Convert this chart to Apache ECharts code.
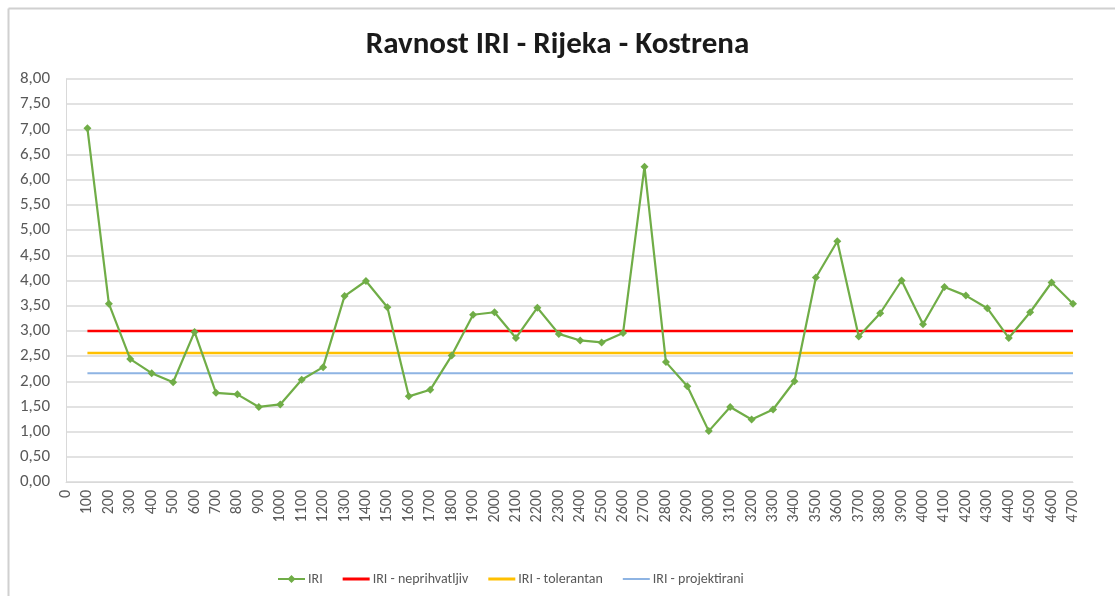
<!DOCTYPE html>
<html>
<head>
<meta charset="utf-8">
<script src="https://cdn.jsdelivr.net/npm/echarts@6/dist/echarts.min.js"></script>
<style>
html,body{margin:0;padding:0;background:#fff;}
#chart{width:1115px;height:596px;}
</style>
</head>
<body>
<div id="chart"></div>
<script>
const titleText = 'Ravnost IRI - Rijeka - Kostrena';
const categories = ['0','100','200','300','400','500','600','700','800','900','1000','1100','1200','1300','1400','1500','1600','1700','1800','1900','2000','2100','2200','2300','2400','2500','2600','2700','2800','2900','3000','3100','3200','3300','3400','3500','3600','3700','3800','3900','4000','4100','4200','4300','4400','4500','4600','4700'];
const iriValues = [null,7.02,3.54,2.44,2.16,1.98,2.98,1.77,1.74,1.49,1.54,2.03,2.28,3.69,3.99,3.47,1.70,1.83,2.51,3.32,3.37,2.86,3.46,2.94,2.81,2.77,2.96,6.26,2.38,1.90,1.01,1.49,1.24,1.44,2.00,4.06,4.78,2.89,3.35,4.00,3.13,3.87,3.70,3.45,2.86,3.37,3.96,3.54];
const neprihvatljiv = 3.00;
const tolerantan = 2.56;
const projektirani = 2.16;
const seriesNames = ['IRI','IRI - neprihvatljiv','IRI - tolerantan','IRI - projektirani'];

function constLine(v){ return categories.map((c,i)=> i===0 ? null : v); }

const lineIcon = 'path://M0,0 L0.01,0 L0.01,0.01 Z M0,2.5 L27,2.5 L27,5.5 L0,5.5 Z M0,8 L0.01,8 L0.01,7.99 Z';
const thinLineIcon = 'path://M0,0 L0.01,0 L0.01,0.01 Z M0,3 L27,3 L27,5 L0,5 Z M0,8 L0.01,8 L0.01,7.99 Z';
const diamondIcon = 'path://M0,3 L10.5,3 L13.5,0 L16.5,3 L27,3 L27,5 L16.5,5 L13.5,8 L10.5,5 L0,5 Z';

const chart = echarts.init(document.getElementById('chart'), null, {renderer:'canvas'});
const font = 'Calibri, Carlito, "Open Sans", sans-serif';
chart.setOption({
  backgroundColor:'#fff',
  animation:false,
  title:{
    text:titleText, left:'center', top:25,
    textStyle:{fontFamily:font, fontSize:31, fontWeight:'bold', color:'#1a1a1a'}
  },
  graphic:[
    {type:'line', shape:{x1:8.5,y1:8.5,x2:1115,y2:8.5}, style:{stroke:'#d0d0d0', lineWidth:2}, silent:true},
    {type:'line', shape:{x1:8.5,y1:8.5,x2:8.5,y2:596}, style:{stroke:'#d0d0d0', lineWidth:2}, silent:true}
  ],
  legend:{
    top:567, left:273, itemGap:20, itemWidth:27, itemHeight:8,
    textStyle:{fontFamily:font, fontSize:14, color:'#595959', padding:[0,0,0,-2]},
    data:[
      {name:seriesNames[0], icon:diamondIcon, itemStyle:{color:'#70ad47'}},
      {name:seriesNames[1], icon:lineIcon, itemStyle:{color:'#ff0000'}},
      {name:seriesNames[2], icon:lineIcon, itemStyle:{color:'#ffc000'}},
      {name:seriesNames[3], icon:thinLineIcon, itemStyle:{color:'#8eb4e3'}}
    ]
  },
  grid:{left:66, right:42, top:79, bottom:114, containLabel:false},
  xAxis:{
    type:'category', data:categories, boundaryGap:false,
    axisLine:{lineStyle:{color:'#d9d9d9', width:1}},
    axisTick:{show:false},
    axisLabel:{rotate:90, interval:0, fontFamily:font, fontSize:16, color:'#595959', margin:8},
    splitLine:{show:false}
  },
  yAxis:{
    type:'value', min:0, max:8, interval:0.5,
    axisLine:{show:true, lineStyle:{color:'#d9d9d9'}},
    axisTick:{show:false},
    axisLabel:{fontFamily:font, fontSize:17, color:'#595959', margin:16,
      formatter:v=>v.toFixed(2).replace('.',',')},
    splitLine:{lineStyle:{color:'#d9d9d9', width:1.5}}
  },
  series:[
    {name:seriesNames[1], type:'line', data:constLine(neprihvatljiv), symbol:'none',
      lineStyle:{color:'#ff0000', width:2.5}, itemStyle:{color:'#ff0000'}, z:2},
    {name:seriesNames[2], type:'line', data:constLine(tolerantan), symbol:'none',
      lineStyle:{color:'#ffc000', width:2.5}, itemStyle:{color:'#ffc000'}, z:2},
    {name:seriesNames[3], type:'line', data:constLine(projektirani), symbol:'none',
      lineStyle:{color:'#8eb4e3', width:2}, itemStyle:{color:'#8eb4e3'}, z:2},
    {name:seriesNames[0], type:'line', data:iriValues, symbol:'diamond', symbolSize:8,
      showSymbol:true, connectNulls:false,
      lineStyle:{color:'#70ad47', width:2.2}, itemStyle:{color:'#70ad47'}, z:3}
  ]
});
</script>
</body>
</html>
